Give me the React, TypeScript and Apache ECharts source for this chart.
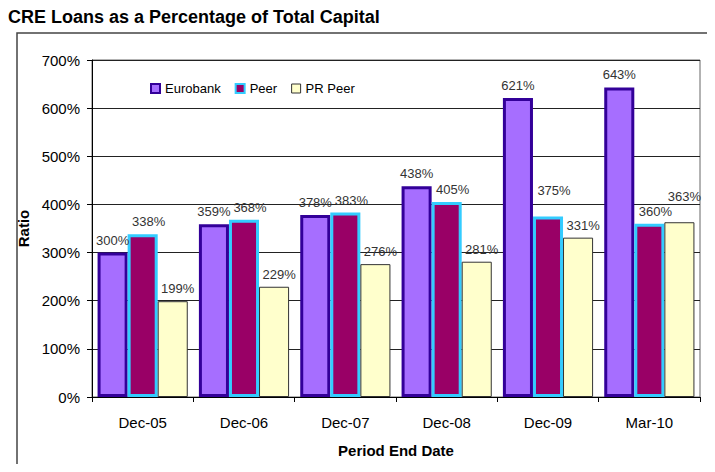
import React, { useEffect, useRef } from "react";
import * as echarts from "echarts";

const categories = ["Dec-05", "Dec-06", "Dec-07", "Dec-08", "Dec-09", "Mar-10"];
const eurobank = [300, 359, 378, 438, 621, 643];
const peer = [338, 368, 383, 405, 375, 360];
const prPeer = [199, 229, 276, 281, 331, 363];
const yTicks = [0, 100, 200, 300, 400, 500, 600, 700];

const FONT = "Liberation Sans, Arial, sans-serif";

export default function App() {
  const ref = useRef<HTMLDivElement>(null);
  useEffect(() => {
    if (!ref.current) return;
    const chart = echarts.init(ref.current, null, { renderer: "svg" });
    const mkLabel = (dx: number) => ({
      show: true,
      position: "top" as const,
      distance: 6,
      offset: [dx, 0],
      fontSize: 13,
      color: "#333",
      fontFamily: FONT,
      formatter: (p: any) => p.value + "%",
    });
    // a couple of labels sit higher in the original layout
    const peerData = peer.map((v, i) =>
      i === 4 ? { value: v, label: { offset: [6, -13] } } : v
    );
    const prData = prPeer.map((v, i) =>
      i === 5 ? { value: v, label: { offset: [5, -13] } } : v
    );
    chart.setOption({
      animation: false,
      backgroundColor: "#fff",
      title: {
        text: "CRE Loans as a Percentage of Total Capital",
        left: 3,
        top: 3,
        textStyle: { fontSize: 18, fontWeight: "bold", color: "#000", fontFamily: FONT },
      },
      graphic: [
        {
          type: "rect",
          shape: { x: 17, y: 33, width: 720, height: 460 },
          style: { fill: "none", stroke: "#444", lineWidth: 1.5 },
          silent: true,
          z: -1,
        },
      ],
      legend: {
        left: 145,
        top: 77,
        itemWidth: 9,
        itemHeight: 9,
        itemGap: 14,
        icon: "rect",
        textStyle: { fontSize: 13, color: "#000", fontFamily: FONT },
        data: [
          { name: "Eurobank", itemStyle: { color: "#A66EFF", borderColor: "#330099", borderWidth: 2 } },
          { name: "Peer", itemStyle: { color: "#990066", borderColor: "#33CCFF", borderWidth: 2 } },
          { name: "PR Peer", itemStyle: { color: "#FFFFCC", borderColor: "#333", borderWidth: 1 } },
        ],
      },
      grid: {
        left: 92,
        right: 15,
        top: 60,
        bottom: 75,
        containLabel: false,
        show: true,
        borderColor: "#666",
        borderWidth: 1,
      },
      xAxis: {
        type: "category",
        data: categories,
        name: "Period End Date",
        nameLocation: "middle",
        nameGap: 46,
        nameTextStyle: { fontSize: 15, fontWeight: "bold", color: "#000", fontFamily: FONT },
        axisLine: { lineStyle: { color: "#000", width: 1 } },
        axisTick: { show: true, length: 5, lineStyle: { color: "#000" } },
        axisLabel: { fontSize: 15, color: "#000", margin: 18, fontFamily: FONT },
      },
      yAxis: {
        type: "value",
        min: 0,
        max: 700,
        interval: 100,
        name: "Ratio",
        nameLocation: "middle",
        nameGap: 52,
        nameTextStyle: { fontSize: 15, fontWeight: "bold", color: "#000", fontFamily: FONT },
        axisLine: { show: true, lineStyle: { color: "#000", width: 1 } },
        axisTick: { show: true, length: 5, lineStyle: { color: "#000" } },
        splitLine: { show: true, lineStyle: { color: "#222", width: 1 } },
        axisLabel: {
          fontSize: 15,
          color: "#000",
          margin: 12,
          fontFamily: FONT,
          formatter: (v: number) => (yTicks.includes(v) ? v + "%" : ""),
        },
      },
      series: [
        {
          name: "Eurobank",
          type: "bar",
          data: eurobank,
          barGap: "0%",
          barCategoryGap: "11%",
          itemStyle: { color: "#A66EFF", borderColor: "#330099", borderWidth: 3 },
          label: mkLabel(0),
        },
        {
          name: "Peer",
          type: "bar",
          data: peerData,
          itemStyle: { color: "#990066", borderColor: "#33CCFF", borderWidth: 3 },
          label: mkLabel(6),
        },
        {
          name: "PR Peer",
          type: "bar",
          data: prData,
          itemStyle: { color: "#FFFFCC", borderColor: "#333", borderWidth: 1 },
          label: mkLabel(5),
        },
      ],
    });
    return () => chart.dispose();
  }, []);
  return <div ref={ref} style={{ width: 715, height: 472, margin: -8 }} />;
}
